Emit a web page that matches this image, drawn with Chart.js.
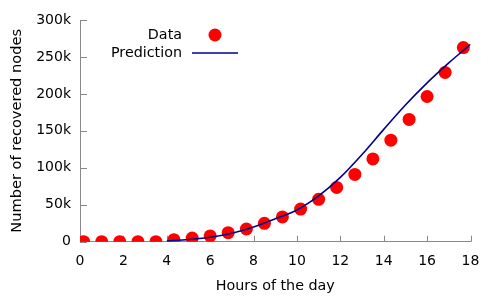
<!DOCTYPE html>
<html>
<head>
<meta charset="utf-8">
<script src="https://cdn.jsdelivr.net/npm/chart.js@4/dist/chart.umd.min.js"></script>
<style>
html,body{margin:0;padding:0;background:#fff;}
#wrap{width:498px;height:299px;}
</style>
</head>
<body>
<div id="wrap"><canvas id="c" width="498" height="299"></canvas></div>
<script>
// ---- data ----
const dataHours = [0.17, 1.0, 1.83, 2.67, 3.5, 4.33, 5.17, 6.0, 6.83, 7.67, 8.5, 9.33, 10.17, 11.0, 11.83, 12.67, 13.5, 14.33, 15.17, 16.0, 16.83, 17.67];
const dataRecovered = [0, 0, 0, 0, 0, 2800, 5000, 7800, 12200, 17200, 24900, 33500, 44200, 57300, 73500, 91000, 112000, 137400, 165400, 196500, 229000, 262700];
const predHours = [4, 5, 6, 7, 8, 9, 10, 11, 12, 13, 14, 15, 16, 17, 18];
const predRecovered = [1000, 3000, 6000, 11500, 20000, 31000, 43000, 62000, 87000, 118000, 152000, 185000, 215000, 242000, 267000];
const xTickValues = [0, 2, 4, 6, 8, 10, 12, 14, 16, 18];
const yTickLabels = ['0', '50k', '100k', '150k', '200k', '250k', '300k'];
const seriesLabels = ['Data', 'Prediction'];
const xTitle = 'Hours of the day';
const yTitle = 'Number of recovered nodes';

const FONT = 'DejaVu Sans';
const AXIS_COLOR = '#888888';

const inwardTicks = {
  id: 'inwardTicks',
  beforeDatasetsDraw(chart) {
    const ctx = chart.ctx;
    const xs = chart.scales.x, ys = chart.scales.y;
    const area = chart.chartArea;
    ctx.save();
    ctx.strokeStyle = AXIS_COLOR;
    ctx.lineWidth = 1;
    ctx.beginPath();
    xs.ticks.forEach(t => {
      const px = Math.round(xs.getPixelForValue(t.value)) + 0.5;
      ctx.moveTo(px, area.bottom);
      ctx.lineTo(px, area.bottom - 6);
    });
    ys.ticks.forEach(t => {
      const py = Math.round(ys.getPixelForValue(t.value)) + 0.5;
      ctx.moveTo(area.left, py);
      ctx.lineTo(area.left + 7, py);
    });
    ctx.stroke();
    ctx.restore();
  }
};

const keyBox = {
  id: 'keyBox',
  afterDraw(chart) {
    const ctx = chart.ctx;
    const ds = chart.data.datasets;
    ctx.save();
    ctx.font = '14.3px "' + FONT + '"';
    ctx.fillStyle = '#000';
    ctx.textAlign = 'right';
    ctx.textBaseline = 'middle';
    const textRight = 182, rowY = [35, 53];
    const dData = ds.find(d => d.label === seriesLabels[0]);
    const dPred = ds.find(d => d.label === seriesLabels[1]);
    ctx.fillText(dData.label, textRight, rowY[0]);
    ctx.beginPath();
    ctx.fillStyle = dData.backgroundColor;
    ctx.arc(215, rowY[0], 6.5, 0, Math.PI * 2);
    ctx.fill();
    ctx.fillStyle = '#000';
    ctx.fillText(dPred.label, textRight, rowY[1]);
    ctx.strokeStyle = dPred.borderColor;
    ctx.lineWidth = dPred.borderWidth;
    ctx.beginPath();
    ctx.moveTo(192, rowY[1]);
    ctx.lineTo(238, rowY[1]);
    ctx.stroke();
    ctx.restore();
  }
};

new Chart(document.getElementById('c'), {
  type: 'scatter',
  data: {
    datasets: [
      {
        label: seriesLabels[0],
        data: dataHours.map((h, i) => ({x: h, y: dataRecovered[i]})),
        backgroundColor: '#ff0000',
        borderWidth: 0,
        pointRadius: 6.5,
        pointHoverRadius: 6.5,
        showLine: false,
        order: 2
      },
      {
        label: seriesLabels[1],
        data: predHours.map((h, i) => ({x: h, y: predRecovered[i]})),
        type: 'line',
        borderColor: '#000090',
        borderWidth: 1.6,
        pointRadius: 0,
        fill: false,
        showLine: true,
        cubicInterpolationMode: 'monotone',
        order: 1
      }
    ]
  },
  options: {
    responsive: false,
    animation: false,
    devicePixelRatio: 1,
    layout: { padding: { left: 0, right: 27.5, top: 20, bottom: 0 } },
    plugins: { legend: { display: false }, tooltip: { enabled: false } },
    scales: {
      x: {
        type: 'linear',
        min: 0, max: 18,
        afterBuildTicks: s => { s.ticks = xTickValues.map(v => ({value: v})); },
        ticks: { color: '#000', font: { family: FONT, size: 14 }, padding: 11.5, maxRotation: 0, autoSkip: false },
        grid: { display: false, drawTicks: false },
        border: { display: true, color: AXIS_COLOR, width: 1 },
        title: { display: true, text: xTitle, color: '#000', font: { family: FONT, size: 14.3 }, padding: { top: 0, bottom: 4.5 } },
        afterFit: s => { s.height = 57.3; }
      },
      y: {
        type: 'linear',
        min: 0, max: 300000,
        afterBuildTicks: s => { s.ticks = yTickLabels.map((l, i) => ({value: i * 50000})); },
        ticks: { color: '#000', font: { family: FONT, size: 14 }, padding: 9, autoSkip: false,
          callback: (v, i) => yTickLabels[i] },
        grid: { display: false, drawTicks: false },
        border: { display: true, color: AXIS_COLOR, width: 1 },
        title: { display: true, text: yTitle, color: '#000', font: { family: FONT, size: 14.6 }, padding: { top: 8, bottom: 0 } },
        afterFit: s => { s.width = 80; }
      }
    }
  },
  plugins: [inwardTicks, keyBox]
});
</script>
</body>
</html>
